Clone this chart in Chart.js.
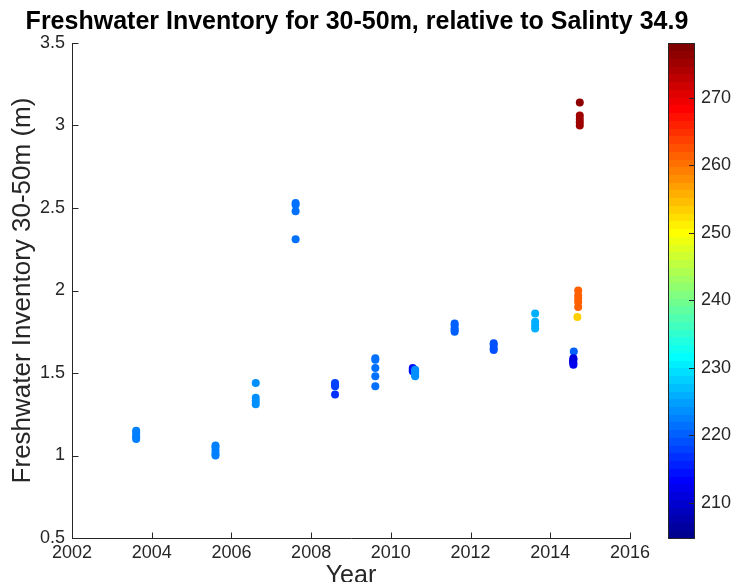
<!DOCTYPE html>
<html>
<head>
<meta charset="utf-8">
<script src="https://cdn.jsdelivr.net/npm/chart.js@4.4.0/dist/chart.umd.min.js"></script>
<style>
html,body{margin:0;padding:0;background:#ffffff;}
#wrap{width:736px;height:582px;position:relative;}
</style>
</head>
<body>
<div id="wrap"><canvas id="c" width="736" height="582"></canvas></div>
<script>
// ---- tick labels ----
const xTicks = [2002, 2004, 2006, 2008, 2010, 2012, 2014, 2016];
const yTicks = [0.5, 1, 1.5, 2, 2.5, 3, 3.5];
const colorTicks = [210, 220, 230, 240, 250, 260, 270];
const colorMin = 204.8;
const colorMax = 278.1;

// ---- data ----
const sampleYear = [
  2003.61, 2003.61, 2003.61, 2003.61, 2003.61,
  2005.60, 2005.60, 2005.60, 2005.60, 2005.60,
  2006.61, 2006.61, 2006.61, 2006.61,
  2007.61, 2007.61, 2007.61, 2007.61,
  2008.60, 2008.60, 2008.60, 2008.60,
  2009.61, 2009.61, 2009.61, 2009.61, 2009.61,
  2010.55, 2010.55, 2010.55, 2010.61, 2010.61, 2010.61, 2010.61, 2010.61,
  2011.60, 2011.60, 2011.60, 2011.60, 2011.60,
  2012.58, 2012.58, 2012.58, 2012.58,
  2013.62, 2013.62, 2013.62, 2013.62,
  2014.59, 2014.57, 2014.58, 2014.58, 2014.58, 2014.58,
  2014.68,
  2014.70, 2014.70, 2014.70, 2014.70, 2014.70,
  2014.74, 2014.74, 2014.74, 2014.74, 2014.74
];
const freshwaterInventory = [
  1.15, 1.14, 1.12, 1.11, 1.10,
  1.06, 1.05, 1.03, 1.01, 1.00,
  1.44, 1.35, 1.33, 1.31,
  2.53, 2.52, 2.48, 2.31,
  1.44, 1.43, 1.42, 1.37,
  1.59, 1.58, 1.53, 1.48, 1.42,
  1.53, 1.52, 1.51, 1.52, 1.51, 1.50, 1.49, 1.48,
  1.80, 1.79, 1.77, 1.76, 1.75,
  1.68, 1.67, 1.65, 1.64,
  1.86, 1.81, 1.79, 1.77,
  1.63, 1.57, 1.59, 1.58, 1.56, 1.55,
  1.84,
  2.00, 1.97, 1.95, 1.93, 1.90,
  3.14, 3.06, 3.04, 3.02, 3.00
];
const colorValue = [
  222, 222, 222, 222, 222,
  222.5, 222.5, 222.5, 222.5, 222.5,
  223.7, 223.7, 223.7, 223.7,
  221, 221, 221, 221,
  218, 218, 218, 217,
  221, 221, 221, 221, 221,
  215, 215, 215, 224, 224, 224, 224, 224,
  220.5, 220.5, 220.5, 220.5, 220.5,
  219, 219, 219, 219,
  225.5, 225.5, 225.5, 225.5,
  220.5, 209.5, 211, 211, 211.5, 212,
  253.5,
  261.5, 261.5, 261.5, 261.5, 261.5,
  276, 275.5, 275.5, 275.5, 275.5
];

// ---- MATLAB jet(64) colormap ----
function jetRow(i) {
  const r = i < 25 ? 0 : i <= 40 ? (i - 24) / 16 : i <= 56 ? 1 : (72 - i) / 16;
  const g = i < 9 ? 0 : i <= 24 ? (i - 8) / 16 : i <= 40 ? 1 : i <= 55 ? (56 - i) / 16 : 0;
  const b = i <= 8 ? (i + 8) / 16 : i <= 24 ? 1 : i <= 39 ? (40 - i) / 16 : 0;
  return 'rgb(' + Math.round(r * 255) + ',' + Math.round(g * 255) + ',' + Math.round(b * 255) + ')';
}
function jetColor(v) {
  let idx = Math.floor((v - colorMin) / (colorMax - colorMin) * 64) + 1;
  idx = Math.min(64, Math.max(1, idx));
  return jetRow(idx);
}

const points = sampleYear.map((x, i) => ({x: x, y: freshwaterInventory[i]}));
const pointColors = colorValue.map(jetColor);

const FONT = '"Liberation Sans", Arial, Helvetica, sans-serif';
const AXIS_COLOR = '#262626';

const widenColorAxis = {
  id: 'widenColorAxis',
  afterLayout(chart) {
    // let the colour-bar labels use the space up to the canvas edge
    chart.scales.cb.right = chart.width;
  }
};

const inwardTicks = {
  id: 'inwardTicks',
  afterDraw(chart) {
    const ctx = chart.ctx;
    const xs = chart.scales.x, ys = chart.scales.y;
    ctx.save();
    ctx.strokeStyle = AXIS_COLOR;
    ctx.lineWidth = 1;
    ctx.beginPath();
    xs.ticks.forEach(t => {
      const px = Math.round(xs.getPixelForValue(t.value)) + 0.5;
      const py = Math.round(xs.top) + 0.5;
      ctx.moveTo(px, py);
      ctx.lineTo(px, py - 6);
    });
    ys.ticks.forEach(t => {
      const py = Math.round(ys.getPixelForValue(t.value)) + 0.5;
      const px = Math.round(ys.right) + 0.5;
      ctx.moveTo(px, py);
      ctx.lineTo(px + 6, py);
    });
    ctx.stroke();
    ctx.restore();
  }
};

const colorBar = {
  id: 'colorBar',
  afterDraw(chart) {
    const ctx = chart.ctx;
    const cb = chart.scales.cb;
    const x0 = Math.round(cb.left) + 38;
    const w = 26;
    ctx.save();
    const n = 64;
    for (let i = 0; i < n; i++) {
      const v0 = colorMin + (colorMax - colorMin) * i / n;
      const v1 = colorMin + (colorMax - colorMin) * (i + 1) / n;
      const p0 = cb.getPixelForValue(v0);
      const p1 = cb.getPixelForValue(v1);
      ctx.fillStyle = jetRow(i + 1);
      ctx.fillRect(x0, Math.floor(p1), w, Math.ceil(p0) - Math.floor(p1));
    }
    ctx.strokeStyle = AXIS_COLOR;
    ctx.lineWidth = 1;
    const top = Math.round(cb.getPixelForValue(colorMax)) + 0.5;
    const bot = Math.round(cb.getPixelForValue(colorMin)) + 0.5;
    ctx.strokeRect(x0 + 0.5, top, w, bot - top);
    ctx.beginPath();
    colorTicks.forEach(v => {
      const py = Math.round(cb.getPixelForValue(v)) + 0.5;
      ctx.moveTo(x0 + w + 0.5, py);
      ctx.lineTo(x0 + w - 5, py);
    });
    ctx.stroke();
    ctx.restore();
  }
};

new Chart(document.getElementById('c'), {
  type: 'scatter',
  data: {
    datasets: [{
      data: points,
      backgroundColor: pointColors,
      borderColor: pointColors,
      borderWidth: 0,
      pointRadius: 4,
      pointHoverRadius: 4
    }]
  },
  plugins: [widenColorAxis, inwardTicks, colorBar],
  options: {
    responsive: false,
    animation: false,
    devicePixelRatio: 1,
    layout: {padding: {top: 0, left: 0, right: 22, bottom: 0}},
    plugins: {
      legend: {display: false},
      tooltip: {enabled: false},
      title: {
        display: true,
        text: 'Freshwater Inventory for 30-50m, relative to Salinty 34.9',
        color: '#000000',
        font: {family: FONT, size: 25, weight: 'bold', lineHeight: 1.2},
        padding: {top: 7, bottom: 6}
      }
    },
    scales: {
      x: {
        type: 'linear',
        position: 'bottom',
        min: 2002,
        max: 2016,
        afterBuildTicks: s => { s.ticks = xTicks.map(v => ({value: v})); },
        afterFit: s => { s.height = 44; },
        ticks: {
          autoSkip: false,
          maxRotation: 0,
          padding: 0,
          color: AXIS_COLOR,
          font: {family: FONT, size: 18},
          callback: v => String(v)
        },
        grid: {display: true, drawOnChartArea: false, drawTicks: true, tickLength: 4, color: 'rgba(0,0,0,0)'},
        border: {display: true, color: AXIS_COLOR, width: 1},
        title: {
          display: true,
          text: 'Year',
          color: AXIS_COLOR,
          font: {family: FONT, size: 25, lineHeight: 0.5},
          padding: 0
        }
      },
      y: {
        type: 'linear',
        position: 'left',
        min: 0.5,
        max: 3.5,
        afterBuildTicks: s => { s.ticks = yTicks.map(v => ({value: v})); },
        afterFit: s => { s.width = 72; },
        ticks: {
          autoSkip: false,
          padding: 0,
          color: AXIS_COLOR,
          font: {family: FONT, size: 18},
          callback: v => String(v)
        },
        grid: {display: true, drawOnChartArea: false, drawTicks: true, tickLength: 7, color: 'rgba(0,0,0,0)'},
        border: {display: true, color: AXIS_COLOR, width: 1},
        title: {
          display: true,
          text: 'Freshwater Inventory 30-50m (m)',
          color: AXIS_COLOR,
          font: {family: FONT, size: 26, lineHeight: 1.2},
          padding: {top: 7, bottom: 0}
        }
      },
      cb: {
        type: 'linear',
        position: 'right',
        min: colorMin,
        max: colorMax,
        afterBuildTicks: s => { s.ticks = colorTicks.map(v => ({value: v})); },
        afterFit: s => { s.width = 84; },
        ticks: {
          autoSkip: false,
          padding: 0,
          color: AXIS_COLOR,
          font: {family: FONT, size: 18},
          callback: v => String(v)
        },
        grid: {display: true, drawOnChartArea: false, drawTicks: true, tickLength: 71, color: 'rgba(0,0,0,0)'},
        border: {display: false}
      }
    }
  }
});
</script>
</body>
</html>
